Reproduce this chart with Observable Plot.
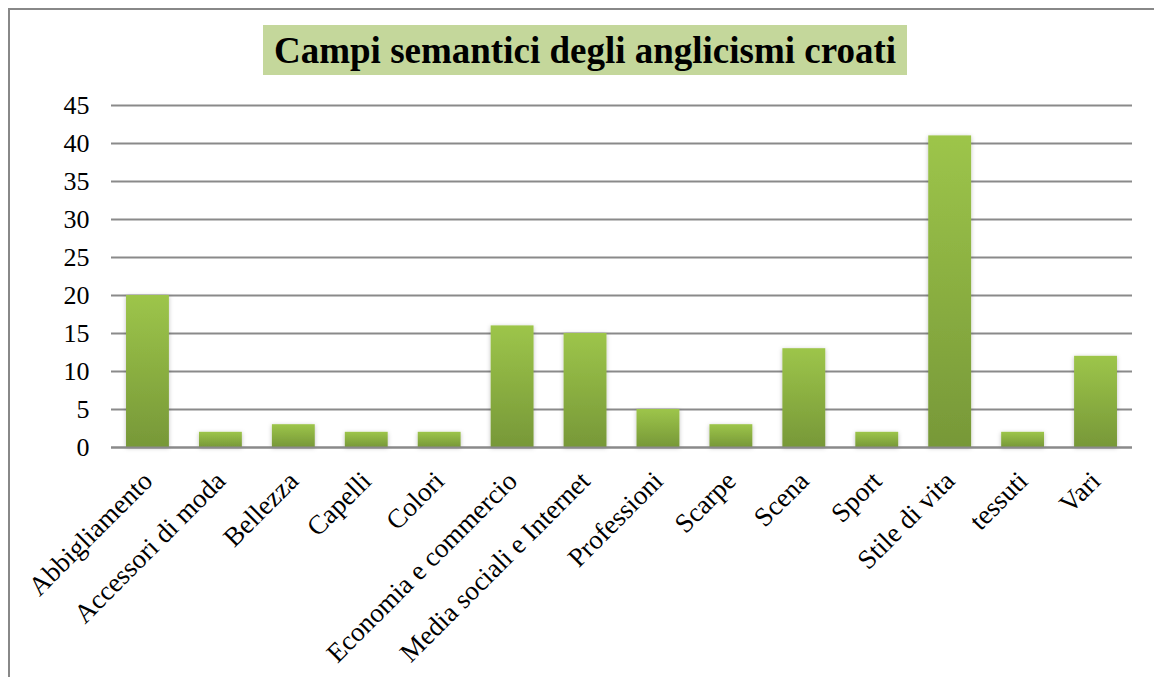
<!DOCTYPE html>
<html><head><meta charset="utf-8">
<script src="https://cdn.jsdelivr.net/npm/d3@7"></script>
<script src="https://cdn.jsdelivr.net/npm/@observablehq/plot@0.6"></script>
<style>
body{margin:0;background:#fff;}
#wrap{position:relative;width:1154px;height:677px;overflow:hidden;font-family:"Times New Roman","Liberation Serif",serif;}
#frame{position:absolute;left:8px;top:8px;width:1160px;height:700px;border-left:2px solid #888;border-top:2px solid #888;pointer-events:none;}
#title{position:relative;height:90px;}
#title span{position:absolute;left:263px;top:25px;height:50px;line-height:52px;padding:0 11px;background:#c4d79b;font-family:"Times New Roman","Liberation Serif",serif;font-weight:700;font-size:37px;color:#000;white-space:nowrap;}
#chart{position:relative;height:587px;}
#chart svg text{font-family:"Times New Roman","Liberation Serif",serif;fill:#000;}
</style></head>
<body>
<div id="wrap">
  <div id="title"><span>Campi semantici degli anglicismi croati</span></div>
  <div id="chart"></div>
  <div id="frame"></div>
</div>
<script>
const categories = ["Abbigliamento","Accessori di moda","Bellezza","Capelli","Colori","Economia e commercio","Media sociali e Internet","Professioni","Scarpe","Scena","Sport","Stile di vita","tessuti","Vari"];
const values = [20, 2, 3, 2, 2, 16, 15, 5, 3, 13, 2, 41, 2, 12];
const yTicks = [0, 5, 10, 15, 20, 25, 30, 35, 40, 45];

const data = categories.map((c, i) => ({category: c, value: values[i]}));

const defs = () => {
  const d = d3.create("svg:defs");
  const g = d.append("linearGradient").attr("id", "barGrad").attr("x1", 0).attr("y1", 0).attr("x2", 0).attr("y2", 1);
  g.append("stop").attr("offset", "0%").attr("stop-color", "#9dc54a");
  g.append("stop").attr("offset", "100%").attr("stop-color", "#779838");
  const f = d.append("filter").attr("id", "shadow").attr("x", "-20%").attr("y", "-5%").attr("width", "140%").attr("height", "115%");
  f.append("feDropShadow").attr("dx", 0).attr("dy", 1).attr("stdDeviation", 2).attr("flood-color", "#000").attr("flood-opacity", 0.25);
  return d.node();
};

const chart = Plot.plot({
  width: 1154,
  height: 587,
  marginLeft: 111,
  marginRight: 22,
  marginTop: 15,
  marginBottom: 230,
  style: {fontFamily: "'Times New Roman', 'Liberation Serif', serif", fontSize: "26px", color: "#000", background: "transparent", overflow: "visible"},
  x: {domain: categories, paddingInner: 0.412, paddingOuter: 0.206, round: false, label: null},
  y: {domain: [0, 45], ticks: yTicks, label: null},
  marks: [
    defs,
    Plot.ruleY(yTicks, {stroke: "#8a8a8a", strokeWidth: 2}),
    Plot.barY(data, {
      x: "category", y: "value", fill: "url(#barGrad)",
      render: (i, s, v, d, c, next) => { const g = next(i, s, v, d, c); g.setAttribute("filter", "url(#shadow)"); return g; }
    }),
    Plot.ruleY([0], {stroke: "#8a8a8a", strokeWidth: 2}),
    Plot.axisY({ticks: yTicks, tickSize: 0, tickPadding: 22, fontSize: 26, label: null}),
    Plot.axisX({tickRotate: -45, tickSize: 0, tickPadding: 29, fontSize: 27, label: null})
  ]
});
document.getElementById("chart").appendChild(chart);
</script>
</body></html>
